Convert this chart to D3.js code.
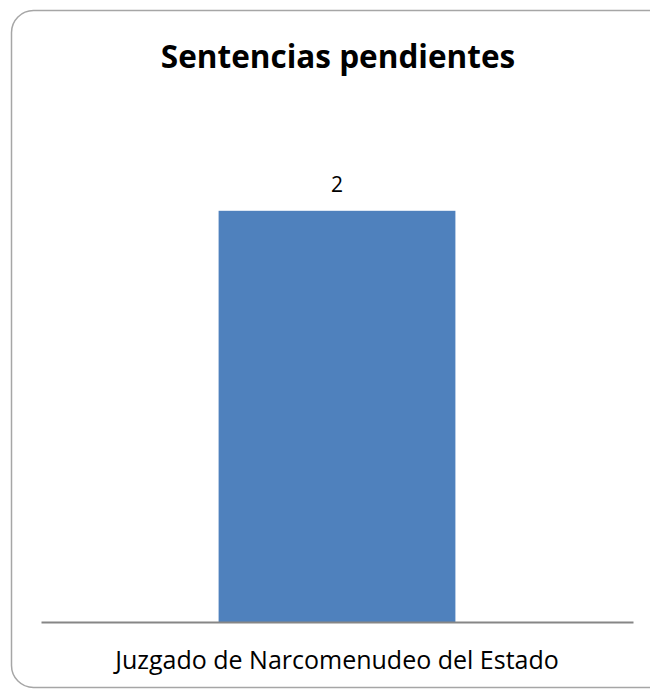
<!DOCTYPE html>
<html>
<head>
<meta charset="utf-8">
<script src="https://cdn.jsdelivr.net/npm/d3@7/dist/d3.min.js"></script>
<style>
  body { margin: 0; background: #fff; }
  svg { display: block; font-family: "Open Sans", sans-serif; }
</style>
</head>
<body>
<script>
// data
var categories = ["Juzgado de Narcomenudeo del Estado"];
var values = [2];
var chartTitle = "Sentencias pendientes";

var width = 650, height = 690;

var svg = d3.select("body").append("svg")
    .attr("width", width)
    .attr("height", height);

// chart frame (runs off the right edge like the original)
svg.append("rect")
    .attr("x", 11.5)
    .attr("y", 10.5)
    .attr("width", 660)
    .attr("height", 677)
    .attr("rx", 22)
    .attr("fill", "#fff")
    .attr("stroke", "#a6a6a6")
    .attr("stroke-width", 1.5);

// title
svg.append("text")
    .attr("x", 338)
    .attr("y", 68)
    .attr("text-anchor", "middle")
    .attr("font-size", 31.5)
    .attr("font-weight", "bold")
    .attr("fill", "#000")
    .text(chartTitle);

// plot area
var plot = { left: 41, right: 633, top: 108, bottom: 622 };

var x = d3.scaleBand()
    .domain(categories)
    .range([plot.left, plot.right])
    .paddingInner(0.6)
    .paddingOuter(0.3);

var y = d3.scaleLinear()
    .domain([0, 2.5])
    .range([plot.bottom, plot.top]);

// bars
svg.selectAll("rect.bar")
    .data(values)
    .enter().append("rect")
    .attr("class", "bar")
    .attr("x", function(d, i){ return x(categories[i]); })
    .attr("y", function(d){ return y(d); })
    .attr("width", x.bandwidth())
    .attr("height", function(d){ return y(0) - y(d); })
    .attr("fill", "#4f81bd");

// value labels
svg.selectAll("text.val")
    .data(values)
    .enter().append("text")
    .attr("class", "val")
    .attr("x", function(d, i){ return x(categories[i]) + x.bandwidth() / 2; })
    .attr("y", function(d){ return y(d) - 19; })
    .attr("text-anchor", "middle")
    .attr("font-size", 21)
    .attr("fill", "#000")
    .text(function(d){ return d; });

// category axis
var xAxis = svg.append("g")
    .attr("transform", "translate(0," + plot.bottom + ")")
    .call(d3.axisBottom(x).tickSize(0).tickPadding(29));

xAxis.select(".domain")
    .attr("stroke", "#868686")
    .attr("stroke-width", 2);

xAxis.selectAll("text")
    .attr("font-size", 25)
    .attr("font-family", "Open Sans, sans-serif")
    .attr("fill", "#000");
</script>
</body>
</html>
